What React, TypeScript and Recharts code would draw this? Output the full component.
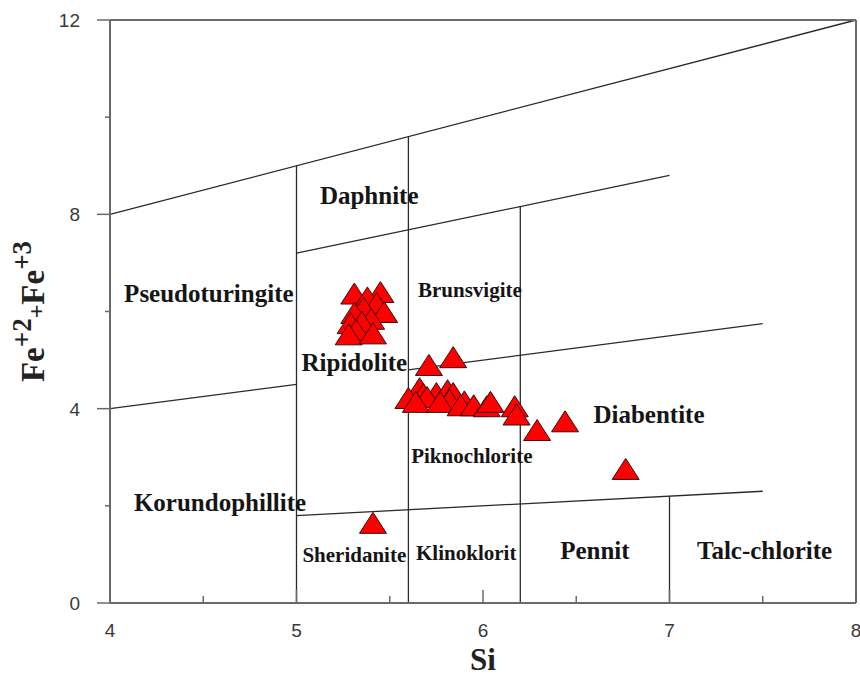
import React from "react";
import { ScatterChart, Scatter, XAxis, YAxis, ReferenceLine } from "recharts";

// axis ticks
const SI_TICKS = [4, 4.5, 5, 5.5, 6, 6.5, 7, 7.5, 8];
const TOP_TICKS = [4.4, 4.8, 5.2, 5.6, 6.0, 6.4, 6.8, 7.2, 7.6];
const TOP_MAJOR = [4.8, 5.6, 6.4, 7.2];
const FE_TICKS = [0, 2, 4, 6, 8, 10, 12];
const FE_LABELLED = [0, 4, 8, 12];
const RIGHT_TICKS = [1.2, 2.4, 3.6, 4.8, 6.0, 7.2, 8.4, 9.6, 10.8];

// chlorite classification field boundaries, [Si, Fe] end points
const boundaries: [number, number][][] = [
  [[4, 8], [8, 12]],
  [[5, 9], [5, 0]],
  [[5.6, 9.6], [5.6, 0]],
  [[6.2, 8.16], [6.2, 0]],
  [[5, 7.2], [7, 8.8]],
  [[4, 4], [5, 4.5]],
  [[5.6, 4.8], [7.5, 5.75]],
  [[5, 1.8], [7.5, 2.3]],
  [[7, 2.2], [7, 0]],
];

// field names
const bigLabels = [
  { name: "Daphnite", si: 5.39, fe: 8.21 },
  { name: "Pseudoturingite", si: 4.53, fe: 6.2 },
  { name: "Ripidolite", si: 5.31, fe: 4.78 },
  { name: "Diabentite", si: 6.89, fe: 3.7 },
  { name: "Korundophillite", si: 4.59, fe: 1.9 },
  { name: "Pennit", si: 6.6, fe: 0.9 },
  { name: "Talc-chlorite", si: 7.51, fe: 0.9 },
];
const smallLabels = [
  { name: "Brunsvigite", si: 5.93, fe: 6.3 },
  { name: "Piknochlorite", si: 5.94, fe: 2.89 },
  { name: "Sheridanite", si: 5.31, fe: 0.84 },
  { name: "Klinoklorit", si: 5.91, fe: 0.88 },
];

// analysed chlorites
const samples = [
  { si: 5.31, fe: 6.37 },
  { si: 5.45, fe: 6.4 },
  { si: 5.38, fe: 6.29 },
  { si: 5.43, fe: 6.17 },
  { si: 5.36, fe: 6.08 },
  { si: 5.47, fe: 5.99 },
  { si: 5.31, fe: 5.97 },
  { si: 5.4, fe: 5.85 },
  { si: 5.35, fe: 5.79 },
  { si: 5.29, fe: 5.76 },
  { si: 5.32, fe: 5.62 },
  { si: 5.28, fe: 5.53 },
  { si: 5.41, fe: 5.55 },
  { si: 5.71, fe: 4.9 },
  { si: 5.84, fe: 5.06 },
  { si: 5.66, fe: 4.42 },
  { si: 5.68, fe: 4.3 },
  { si: 5.75, fe: 4.32 },
  { si: 5.81, fe: 4.38 },
  { si: 5.84, fe: 4.32 },
  { si: 5.6, fe: 4.22 },
  { si: 5.7, fe: 4.24 },
  { si: 5.82, fe: 4.18 },
  { si: 5.64, fe: 4.14 },
  { si: 5.77, fe: 4.14 },
  { si: 5.9, fe: 4.15 },
  { si: 5.88, fe: 4.07 },
  { si: 5.95, fe: 4.07 },
  { si: 6.02, fe: 4.05 },
  { si: 6.04, fe: 4.14 },
  { si: 6.17, fe: 4.05 },
  { si: 6.18, fe: 3.88 },
  { si: 6.29, fe: 3.56 },
  { si: 6.44, fe: 3.74 },
  { si: 6.765, fe: 2.76 },
  { si: 5.41, fe: 1.65 },
];

const FRAME = "#6a6a6a";
const LINE = "#2a2a2a";
const TICK_TEXT = { fontFamily: "'Liberation Sans', Arial, sans-serif", fontSize: 19, fill: "#3a3a3a" };
const SERIF = "'Liberation Serif', 'Times New Roman', serif";

function BottomTick({ x, y, payload }: any) {
  const major = Number.isInteger(payload.value);
  return (
    <g>
      <line x1={x} x2={x} y1={y} y2={y - (major ? 13 : 7)} stroke={FRAME} strokeWidth={1.5} />
      {major && (
        <text x={x} y={y + 34} textAnchor="middle" style={TICK_TEXT}>
          {payload.value}
        </text>
      )}
    </g>
  );
}

function TopTick({ x, y, payload }: any) {
  const major = TOP_MAJOR.includes(payload.value);
  return <line x1={x} x2={x} y1={y} y2={y + (major ? 13 : 4)} stroke={FRAME} strokeWidth={1.5} />;
}

function LeftTick({ x, y, payload }: any) {
  const major = FE_LABELLED.includes(payload.value);
  return (
    <g>
      <line x1={x - (major ? 13 : 5)} x2={x} y1={y} y2={y} stroke={FRAME} strokeWidth={1.5} />
      {major && (
        <text x={x - 30} y={y + 7} textAnchor="end" style={TICK_TEXT}>
          {payload.value}
        </text>
      )}
    </g>
  );
}

function RightTick({ x, y }: any) {
  return <line x1={x - 8} x2={x} y1={y} y2={y} stroke={FRAME} strokeWidth={1.5} />;
}

function SiTitle({ viewBox }: any) {
  return (
    <text
      x={viewBox.x + viewBox.width / 2}
      y={viewBox.y + 67}
      textAnchor="middle"
      fontFamily={SERIF}
      fontWeight="bold"
      fontSize={31}
      fill="#222"
    >
      Si
    </text>
  );
}

function FeTitle({ viewBox }: any) {
  const cx = viewBox.x + 44;
  const cy = viewBox.y + viewBox.height / 2;
  return (
    <text
      transform={`translate(${cx},${cy}) rotate(-90)`}
      textAnchor="middle"
      fontFamily={SERIF}
      fontWeight="bold"
      fontSize={33}
      fill="#222"
    >
      <tspan>Fe</tspan>
      <tspan dy={-13} fontSize={27}>+2</tspan>
      <tspan dy={13} fontSize={24}>+</tspan>
      <tspan>Fe</tspan>
      <tspan dy={-13} fontSize={27}>+3</tspan>
    </text>
  );
}

function Triangle({ cx, cy }: any) {
  return (
    <polygon
      points={`${cx},${cy - 10.5} ${cx - 13.5},${cy + 10.5} ${cx + 13.5},${cy + 10.5}`}
      fill="#ff0000"
      stroke="#3b0a0a"
      strokeWidth={1}
    />
  );
}

const fieldName = (size: number) => ({ cx, cy, payload }: any) => (
  <text x={cx} y={cy} textAnchor="middle" fontFamily={SERIF} fontWeight="bold" fontSize={size} fill="#151515">
    {payload.name}
  </text>
);

export default function App() {
  return (
    <div style={{ position: "absolute", left: 0, top: 0, background: "#fff" }}>
      <ScatterChart width={860} height={678} margin={{ top: 19, right: 2, bottom: 0, left: 0 }}>
        <XAxis
          xAxisId="si"
          dataKey="si"
          type="number"
          domain={[4, 8]}
          ticks={SI_TICKS}
          interval={0}
          height={75}
          tickSize={0}
          tickMargin={0}
          tickLine={false}
          tick={<BottomTick />}
          axisLine={{ stroke: FRAME, strokeWidth: 2 }}
          label={<SiTitle />}
        />
        <XAxis
          xAxisId="top"
          orientation="top"
          type="number"
          domain={[4, 8]}
          ticks={TOP_TICKS}
          interval={0}
          height={1}
          tickSize={0}
          tickMargin={0}
          tickLine={false}
          tick={<TopTick />}
          axisLine={{ stroke: FRAME, strokeWidth: 2 }}
        />
        <YAxis
          yAxisId="fe"
          dataKey="fe"
          type="number"
          domain={[0, 12]}
          ticks={FE_TICKS}
          interval={0}
          width={110}
          tickSize={0}
          tickMargin={0}
          tickLine={false}
          tick={<LeftTick />}
          axisLine={{ stroke: FRAME, strokeWidth: 2 }}
          label={<FeTitle />}
        />
        <YAxis
          yAxisId="right"
          orientation="right"
          type="number"
          domain={[0, 12]}
          ticks={RIGHT_TICKS}
          interval={0}
          width={2}
          tickSize={0}
          tickMargin={0}
          tickLine={false}
          tick={<RightTick />}
          axisLine={{ stroke: FRAME, strokeWidth: 2 }}
        />
        {boundaries.map(([a, b], i) => (
          <ReferenceLine
            key={i}
            xAxisId="si"
            yAxisId="fe"
            segment={[{ x: a[0], y: a[1] }, { x: b[0], y: b[1] }]}
            stroke={LINE}
            strokeWidth={1.3}
          />
        ))}
        <Scatter xAxisId="si" yAxisId="fe" data={bigLabels} shape={fieldName(25)} isAnimationActive={false} />
        <Scatter xAxisId="si" yAxisId="fe" data={smallLabels} shape={fieldName(21)} isAnimationActive={false} />
        <Scatter xAxisId="si" yAxisId="fe" data={samples} shape={<Triangle />} isAnimationActive={false} />
      </ScatterChart>
    </div>
  );
}
